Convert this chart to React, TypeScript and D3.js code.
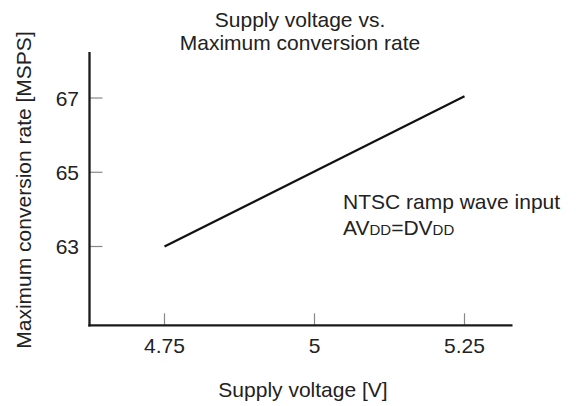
import React from "react";
import * as d3 from "d3";

const voltage = [4.75, 5.25];
const rate = [63, 67.05];
const xTicks = [4.75, 5, 5.25];
const xTickLabels = ["4.75", "5", "5.25"];
const yTicks = [63, 65, 67];
const yTickLabels = ["63", "65", "67"];
const titleLines = ["Supply voltage vs.", "Maximum conversion rate"];

const W = 576;
const H = 406;
const FONT = "'Liberation Sans', Arial, Helvetica, sans-serif";
const TXT = "#222";

export default function App() {
  const x = d3.scaleLinear().domain([4.625, 5.33]).range([89.5, 512.5]);
  const y = d3.scaleLinear().domain([60.877, 68.24]).range([325.3, 52]);
  const pts: [number, number][] = voltage.map((v, i) => [v, rate[i]]);
  const line = d3
    .line<[number, number]>()
    .x((d) => x(d[0]))
    .y((d) => y(d[1]));
  const [x0, x1] = x.range();
  const [y0, y1] = y.range();

  return (
    <svg
      width={W}
      height={H}
      style={{ position: "absolute", left: 0, top: 0, background: "#fff" }}
      fontFamily={FONT}
    >
      <rect width={W} height={H} fill="#fff" />
      {titleLines.map((t, i) => (
        <text key={t} x={300} y={27 + i * 23} textAnchor="middle" fontSize={21} fill={TXT}>
          {t}
        </text>
      ))}
      {/* ticks */}
      {xTicks.map((t) => (
        <line key={"xt" + t} x1={x(t)} x2={x(t)} y1={y0} y2={y0 - 12} stroke="#888" strokeWidth={1.2} />
      ))}
      {yTicks.map((t) => (
        <line key={"yt" + t} x1={x0} x2={x0 + 13} y1={y(t)} y2={y(t)} stroke="#888" strokeWidth={1.2} />
      ))}
      {/* axes */}
      <line x1={x0} x2={x0} y1={y1} y2={y0 + 1.2} stroke="#1a1a1a" strokeWidth={2.3} />
      <line x1={x0 - 1.2} x2={x1} y1={y0} y2={y0} stroke="#1a1a1a" strokeWidth={2.3} />
      {/* tick labels */}
      {xTicks.map((t, i) => (
        <text key={"xl" + t} x={x(t)} y={353} textAnchor="middle" fontSize={21} fill={TXT}>
          {xTickLabels[i]}
        </text>
      ))}
      {yTicks.map((t, i) => (
        <text key={"yl" + t} x={79} y={y(t) + 7.5} textAnchor="end" fontSize={21} fill={TXT}>
          {yTickLabels[i]}
        </text>
      ))}
      {/* data line */}
      <path d={line(pts) ?? ""} fill="none" stroke="#111" strokeWidth={2.2} />
      {/* axis labels */}
      <text x={303} y={397} textAnchor="middle" fontSize={21} fill={TXT}>
        Supply voltage [V]
      </text>
      <text
        transform={`translate(31, 190) rotate(-90)`}
        textAnchor="middle"
        fontSize={21}
        fill={TXT}
      >
        Maximum conversion rate [MSPS]
      </text>
      {/* annotation */}
      <text x={343} y={209} fontSize={21} fill={TXT}>
        NTSC ramp wave input
      </text>
      <text x={343} y={235} fontSize={21} fill={TXT}>
        AV<tspan fontSize={15}>DD</tspan>=DV<tspan fontSize={15}>DD</tspan>
      </text>
    </svg>
  );
}
